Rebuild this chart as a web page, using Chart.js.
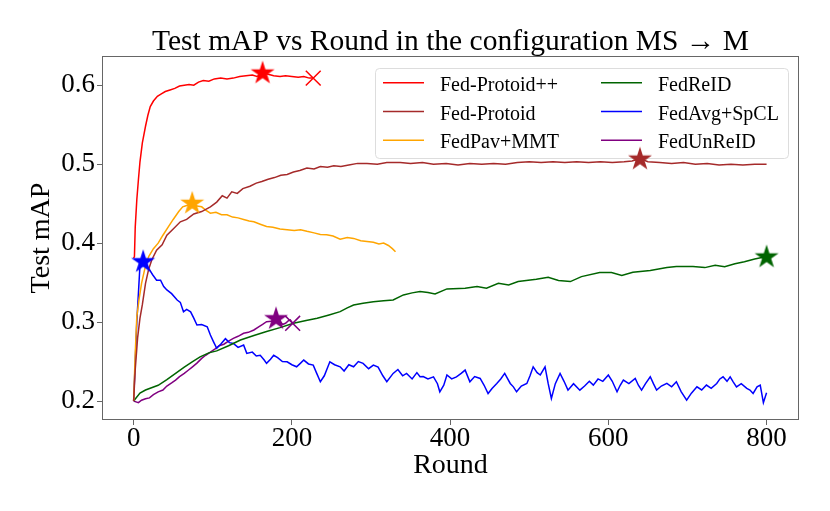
<!DOCTYPE html>
<html>
<head>
<meta charset="utf-8">
<script src="https://cdn.jsdelivr.net/npm/chart.js@4.4.0/dist/chart.umd.min.js"></script>
<style>
  html, body { margin: 0; padding: 0; background: #fff; }
  #wrap { width: 830px; height: 511px; }
</style>
</head>
<body>
<div id="wrap"><canvas id="myChart"></canvas></div>
<script>
const titleText = 'Test mAP vs Round in the configuration MS \u2192 M';
const xTicks = [0, 200, 400, 600, 800];
const yTicks = [0.2, 0.3, 0.4, 0.5, 0.6];

const seriesNames = ['Fed-Protoid++', 'Fed-Protoid', 'FedPav+MMT', 'FedReID', 'FedAvg+SpCL', 'FedUnReID'];
const seriesColors = ['#ff0000', '#a52a2a', '#ffa500', '#006400', '#0000ff', '#800080'];
// series that end with an x marker
const crossEnd = ['Fed-Protoid++', 'FedUnReID'];

const protoidPPRounds = [0, 1, 2, 4, 6, 8, 11, 15, 18, 21, 25, 30, 35, 40, 46, 52, 58, 64, 70, 76, 82, 88, 95, 102, 110, 118, 126, 134, 142, 150, 156, 163, 170, 177, 185, 192, 200, 208, 215, 222, 227];
const protoidPPValues = [0.381, 0.383, 0.42, 0.455, 0.48, 0.503, 0.527, 0.548, 0.562, 0.573, 0.58, 0.586, 0.589, 0.592, 0.594, 0.596, 0.599, 0.6, 0.601, 0.6, 0.604, 0.606, 0.605, 0.608, 0.609, 0.608, 0.609, 0.611, 0.612, 0.613, 0.611, 0.616, 0.614, 0.612, 0.611, 0.612, 0.611, 0.61, 0.611, 0.609, 0.609];

const protoidRounds = [0, 2, 5, 8, 11, 15, 19, 23, 29, 36, 42, 50, 59, 67, 76, 86, 97, 105, 112, 118, 124, 131, 138, 147, 155, 162, 170, 178, 186, 194, 202, 210, 219, 228, 236, 245, 253, 262, 272, 283, 295, 308, 320, 337, 350, 365, 379, 395, 410, 425, 440, 455, 470, 485, 500, 515, 530, 545, 560, 575, 590, 605, 620, 630, 640, 650, 665, 680, 695, 710, 725, 740, 755, 770, 785, 800];
const protoidValues = [0.2, 0.24, 0.28, 0.305, 0.322, 0.349, 0.367, 0.379, 0.391, 0.398, 0.41, 0.418, 0.427, 0.43, 0.437, 0.44, 0.446, 0.452, 0.46, 0.457, 0.465, 0.463, 0.469, 0.472, 0.476, 0.478, 0.481, 0.483, 0.486, 0.487, 0.49, 0.492, 0.495, 0.494, 0.497, 0.496, 0.498, 0.497, 0.499, 0.501, 0.501, 0.5, 0.502, 0.502, 0.501, 0.502, 0.5, 0.501, 0.499, 0.501, 0.5, 0.501, 0.5, 0.502, 0.503, 0.502, 0.503, 0.502, 0.503, 0.502, 0.503, 0.502, 0.503, 0.504, 0.507, 0.503, 0.502, 0.501, 0.502, 0.5, 0.501, 0.499, 0.5, 0.499, 0.5, 0.5];

const pavRounds = [0, 2, 4, 7, 10, 14, 19, 25, 31, 37, 44, 50, 57, 62, 68, 74, 80, 86, 92, 97, 104, 111, 118, 125, 132, 139, 146, 152, 160, 168, 176, 185, 194, 203, 211, 219, 228, 236, 244, 252, 261, 270, 278, 287, 295, 303, 310, 316, 322, 327, 331];
const pavValues = [0.2, 0.26, 0.307, 0.33, 0.349, 0.367, 0.383, 0.393, 0.4, 0.41, 0.421, 0.43, 0.44, 0.446, 0.448, 0.451, 0.447, 0.446, 0.441, 0.438, 0.439, 0.436, 0.436, 0.433, 0.432, 0.43, 0.428, 0.427, 0.424, 0.421, 0.42, 0.418, 0.417, 0.416, 0.417, 0.415, 0.413, 0.411, 0.4105, 0.409, 0.405, 0.407, 0.406, 0.403, 0.402, 0.401, 0.399, 0.4, 0.397, 0.393, 0.389];

const reidRounds = [0, 8, 15, 31, 42, 53, 64, 74, 84, 95, 105, 120, 135, 152, 168, 185, 202, 218, 232, 247, 261, 270, 278, 290, 303, 316, 328, 341, 352, 362, 372, 381, 396, 419, 434, 446, 461, 474, 486, 509, 524, 537, 552, 566, 589, 604, 617, 631, 653, 674, 686, 707, 722, 735, 747, 760, 772, 785, 800];
const reidValues = [0.2, 0.21, 0.214, 0.22, 0.227, 0.235, 0.243, 0.2497, 0.256, 0.261, 0.2635, 0.27, 0.2773, 0.283, 0.288, 0.293, 0.2985, 0.302, 0.3048, 0.309, 0.3132, 0.318, 0.3217, 0.324, 0.3259, 0.327, 0.328, 0.3344, 0.337, 0.3386, 0.3375, 0.3357, 0.342, 0.3429, 0.345, 0.3429, 0.3492, 0.347, 0.3513, 0.3543, 0.3568, 0.3526, 0.3513, 0.3576, 0.3627, 0.3627, 0.3589, 0.3632, 0.3652, 0.369, 0.3703, 0.3703, 0.369, 0.372, 0.37, 0.3738, 0.3763, 0.38, 0.383];

const spclRounds = [0, 4, 8, 12, 16, 19, 24, 29, 34, 38, 42, 48, 55, 59, 63, 67, 72, 76, 80, 86, 93, 97, 101, 105, 110, 116, 121, 126, 132, 139, 143, 150, 155, 160, 165, 168, 173, 177, 182, 188, 194, 200, 206, 211, 215, 221, 227, 231, 236, 241, 248, 254, 261, 266, 272, 278, 284, 290, 297, 303, 309, 315, 320, 328, 334, 340, 345, 352, 358, 362, 366, 372, 379, 384, 387, 392, 396, 402, 408, 414, 419, 425, 431, 438, 443, 448, 453, 459, 464, 469, 476, 480, 484, 490, 497, 501, 505, 510, 514, 520, 524, 528, 533, 539, 544, 549, 556, 564, 570, 576, 581, 587, 593, 600, 605, 611, 615, 619, 626, 634, 638, 642, 647, 653, 657, 661, 667, 674, 680, 686, 692, 699, 705, 712, 718, 724, 730, 737, 741, 745, 750, 754, 758, 762, 768, 775, 779, 783, 788, 792, 796, 800];
const spclValues = [0.2, 0.3, 0.372, 0.377, 0.372, 0.368, 0.36, 0.353, 0.353, 0.345, 0.3407, 0.336, 0.328, 0.325, 0.313, 0.316, 0.313, 0.305, 0.2963, 0.297, 0.294, 0.2836, 0.275, 0.2668, 0.272, 0.279, 0.274, 0.273, 0.268, 0.271, 0.2604, 0.262, 0.257, 0.258, 0.252, 0.2477, 0.253, 0.258, 0.255, 0.25, 0.2497, 0.246, 0.2434, 0.248, 0.2519, 0.247, 0.2455, 0.236, 0.2244, 0.232, 0.2497, 0.246, 0.2434, 0.238, 0.246, 0.2434, 0.25, 0.2477, 0.241, 0.2455, 0.243, 0.232, 0.2244, 0.235, 0.24, 0.232, 0.235, 0.228, 0.236, 0.2307, 0.231, 0.228, 0.2307, 0.222, 0.2117, 0.22, 0.233, 0.228, 0.2307, 0.235, 0.2392, 0.2244, 0.231, 0.2286, 0.22, 0.2096, 0.216, 0.2223, 0.228, 0.235, 0.2223, 0.218, 0.2117, 0.219, 0.2223, 0.232, 0.2434, 0.236, 0.233, 0.2434, 0.222, 0.2033, 0.222, 0.235, 0.225, 0.2138, 0.222, 0.2138, 0.219, 0.225, 0.2202, 0.228, 0.225, 0.233, 0.225, 0.2117, 0.22, 0.2265, 0.222, 0.2286, 0.22, 0.2138, 0.222, 0.2307, 0.222, 0.2138, 0.219, 0.2223, 0.218, 0.2244, 0.212, 0.2011, 0.21, 0.218, 0.214, 0.2202, 0.216, 0.2223, 0.228, 0.2307, 0.225, 0.2307, 0.224, 0.218, 0.222, 0.216, 0.214, 0.2096, 0.218, 0.2202, 0.198, 0.2104];

const unreidRounds = [0, 3, 6, 10, 15, 20, 25, 31, 37, 42, 48, 53, 58, 64, 69, 74, 80, 86, 91, 97, 103, 108, 114, 120, 126, 132, 139, 145, 152, 158, 163, 168, 174, 180, 185, 188, 192, 196, 198, 201];
const unreidValues = [0.2, 0.199, 0.198, 0.201, 0.203, 0.204, 0.208, 0.2117, 0.214, 0.219, 0.223, 0.2265, 0.231, 0.235, 0.239, 0.243, 0.248, 0.254, 0.258, 0.262, 0.266, 0.27, 0.272, 0.276, 0.2794, 0.282, 0.2858, 0.287, 0.29, 0.294, 0.297, 0.3005, 0.301, 0.3048, 0.302, 0.297, 0.2985, 0.302, 0.3027, 0.2985];

const allRounds = [protoidPPRounds, protoidRounds, pavRounds, reidRounds, spclRounds, unreidRounds];
const allValues = [protoidPPValues, protoidValues, pavValues, reidValues, spclValues, unreidValues];

const SERIF = '"Liberation Serif", "DejaVu Serif", "Times New Roman", serif';
Chart.defaults.font.family = SERIF;
Chart.defaults.color = '#000';

// filled five-point star, like matplotlib's '*' marker
function starImage(color) {
  const c = document.createElement('canvas');
  c.width = 28;
  c.height = 28;
  const g = c.getContext('2d');
  g.fillStyle = color;
  g.beginPath();
  for (let k = 0; k < 10; k++) {
    const r = k % 2 ? 4.8 : 12.6;
    const a = -Math.PI / 2 + k * Math.PI / 5;
    g.lineTo(14 + r * Math.cos(a), 14.6 + r * Math.sin(a));
  }
  g.closePath();
  g.fill();
  return c;
}

const datasets = [];
seriesNames.forEach((name, i) => {
  const pts = allRounds[i].map((r, j) => ({ x: r, y: allValues[i][j] }));
  datasets.push({
    label: name,
    data: pts,
    borderColor: seriesColors[i],
    borderWidth: 1.5,
    pointRadius: 0,
    tension: 0,
    fill: false,
    order: 2,
  });
});
seriesNames.forEach((name, i) => {
  const vals = allValues[i];
  const best = vals.indexOf(Math.max(...vals));
  datasets.push({
    type: 'scatter',
    label: name + ' best',
    data: [{ x: allRounds[i][best], y: vals[best] }],
    pointStyle: starImage(seriesColors[i]),
    pointRadius: 6,
    order: 0,
  });
  if (crossEnd.includes(name)) {
    const last = vals.length - 1;
    datasets.push({
      type: 'scatter',
      label: name + ' end',
      data: [{ x: allRounds[i][last], y: vals[last] }],
      pointStyle: 'crossRot',
      pointRadius: 10.5,
      borderColor: seriesColors[i],
      backgroundColor: seriesColors[i],
      borderWidth: 1.5,
      order: 1,
    });
  }
});

const framePlugin = {
  id: 'frame',
  afterDraw(chart) {
    const { ctx, chartArea: a } = chart;
    ctx.save();
    // axes frame
    ctx.strokeStyle = '#666';
    ctx.lineWidth = 1;
    ctx.strokeRect(Math.round(a.left) + 0.5, Math.round(a.top) + 0.5, Math.round(a.right - a.left) - 1, Math.round(a.bottom - a.top) - 1);
    // title centred over the axes
    ctx.fillStyle = '#000';
    ctx.font = '29.5px ' + SERIF;
    ctx.textAlign = 'center';
    ctx.textBaseline = 'alphabetic';
    ctx.fillText(titleText, (a.left + a.right) / 2, 50);
    ctx.restore();
  },
};

// two-column legend box, drawn under the marks
const legendPlugin = {
  id: 'legendBox',
  beforeDatasetsDraw(chart) {
    const ctx = chart.ctx;
    ctx.save();
    ctx.beginPath();
    ctx.roundRect(375.5, 68.5, 413, 90, 4);
    ctx.fillStyle = 'rgba(255,255,255,0.8)';
    ctx.fill();
    ctx.strokeStyle = '#dddddd';
    ctx.lineWidth = 1;
    ctx.stroke();
    ctx.font = '20px ' + SERIF;
    ctx.textAlign = 'left';
    ctx.textBaseline = 'alphabetic';
    seriesNames.forEach((name, i) => {
      const col = i < 3 ? 0 : 1;
      const row = i % 3;
      const x = col ? 601 : 383;
      const base = 90.7 + row * 28.8;
      ctx.strokeStyle = seriesColors[i];
      ctx.lineWidth = 1.5;
      ctx.beginPath();
      ctx.moveTo(x, base - 8);
      ctx.lineTo(x + 41, base - 8);
      ctx.stroke();
      ctx.fillStyle = '#000';
      ctx.fillText(name, x + 57, base);
    });
    ctx.restore();
  },
};

new Chart(document.getElementById('myChart'), {
  type: 'line',
  data: { datasets: datasets },
  options: {
    responsive: true,
    maintainAspectRatio: false,
    animation: false,
    layout: { padding: { top: 56, right: 31, bottom: 0, left: 0 } },
    plugins: {
      legend: { display: false },
      title: { display: false },
      tooltip: { enabled: false },
    },
    scales: {
      x: {
        type: 'linear',
        min: -40,
        max: 841,
        afterBuildTicks: (s) => { s.ticks = xTicks.map((v) => ({ value: v })); },
        afterFit: (s) => { s.height = 91; },
        grid: { drawOnChartArea: false, drawTicks: true, tickLength: 5, color: '#666' },
        border: { display: false },
        ticks: { font: { size: 27, lineHeight: 1 }, padding: 0, color: '#000', maxRotation: 0 },
        title: { display: true, text: 'Round', font: { size: 28, lineHeight: 1.2 }, padding: { top: 0, bottom: 28.7 }, color: '#000' },
      },
      y: {
        min: 0.176,
        max: 0.637,
        afterBuildTicks: (s) => { s.ticks = yTicks.map((v) => ({ value: v })); },
        afterFit: (s) => { s.width = 102; },
        grid: { drawOnChartArea: false, drawTicks: true, tickLength: 5, color: '#666' },
        border: { display: false },
        ticks: { font: { size: 27 }, padding: 2, color: '#000', callback: (v) => v.toFixed(1) },
        title: { display: true, text: 'Test mAP', font: { size: 28, lineHeight: 1.2 }, padding: { top: 25, bottom: 0 }, color: '#000' },
      },
    },
  },
  plugins: [framePlugin, legendPlugin],
});
</script>
</body>
</html>
